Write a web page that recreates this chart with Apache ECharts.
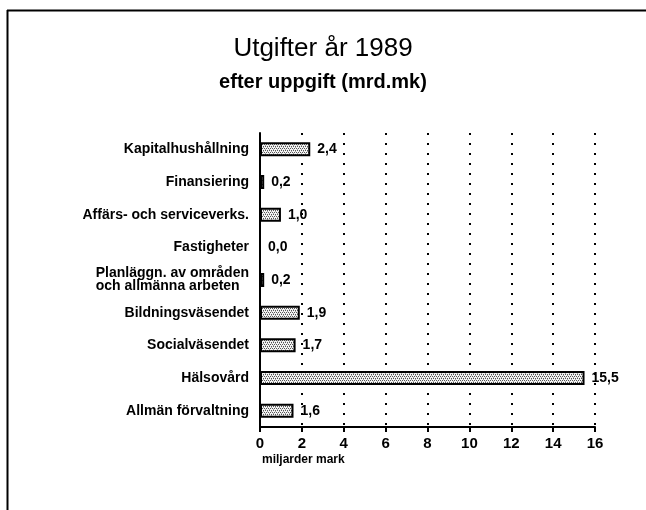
<!DOCTYPE html>
<html>
<head>
<meta charset="utf-8">
<script src="https://cdn.jsdelivr.net/npm/echarts@6/dist/echarts.min.js"></script>
<style>
html,body{margin:0;padding:0;background:#fff;}
#c{width:646px;height:510px;}
</style>
</head>
<body>
<div id="c"></div>
<script>
const categories = [
  'Kapitalhushållning',
  'Finansiering',
  'Affärs- och serviceverks.',
  'Fastigheter',
  'Planläggn. av områden\noch allmänna arbeten',
  'Bildningsväsendet',
  'Socialväsendet',
  'Hälsovård',
  'Allmän förvaltning'
];
const values = [2.4, 0.2, 1.0, 0.0, 0.2, 1.9, 1.7, 15.5, 1.6];
const xTicks = [0, 2, 4, 6, 8, 10, 12, 14, 16];
const titleText = 'Utgifter år 1989';
const subtitleText = 'efter uppgift (mrd.mk)';
const axisLabel = 'miljarder mark';

// stipple pattern
const pc = document.createElement('canvas');
pc.width = 4; pc.height = 4;
const pctx = pc.getContext('2d');
pctx.fillStyle = '#f4f4f4';
pctx.fillRect(0, 0, 4, 4);
pctx.fillStyle = '#555555';
pctx.fillRect(0, 0, 1, 1);
pctx.fillRect(2, 0, 1, 1);
pctx.fillRect(1, 2, 1, 1);
pctx.fillRect(3, 2, 1, 1);
pctx.fillStyle = '#a8a8a8';
pctx.fillRect(1, 1, 1, 1);
pctx.fillRect(3, 3, 1, 1);

const font = 'Liberation Sans, Arial, sans-serif';
const chart = echarts.init(document.getElementById('c'), null, {renderer: 'canvas'});
chart.setOption({
  animation: false,
  backgroundColor: '#fff',
  title: [
    {text: titleText, left: 'center', top: 31, textStyle: {fontFamily: font, fontSize: 26, fontWeight: 'normal', color: '#000'}},
    {text: subtitleText, left: 'center', top: 67, textStyle: {fontFamily: font, fontSize: 20, fontWeight: 'bold', color: '#000'}}
  ],
  graphic: [
    {type: 'line', shape: {x1: 7, y1: 10.5, x2: 660, y2: 10.5}, style: {stroke: '#000', lineWidth: 2}},
    {type: 'line', shape: {x1: 7.5, y1: 10, x2: 7.5, y2: 520}, style: {stroke: '#000', lineWidth: 2}},
    {type: 'text', left: 262, top: 454, style: {text: axisLabel, fontFamily: font, fontSize: 12, fontWeight: 'bold', fill: '#000'}}
  ],
  grid: {left: 260, right: 51, top: 133, bottom: 83, containLabel: false},
  xAxis: {
    type: 'value', min: 0, max: 16, interval: 2,
    axisLine: {show: true, lineStyle: {color: '#000', width: 2}},
    axisTick: {show: true, length: 5, inside: false, lineStyle: {color: '#000', width: 2}},
    axisLabel: {
      color: '#000', fontFamily: font, fontSize: 15, fontWeight: 'bold', margin: 9,
      formatter: v => xTicks.includes(v) ? String(v) : ''
    },
    splitLine: {show: true, lineStyle: {color: '#000', width: 2, type: [2, 8]}}
  },
  yAxis: {
    type: 'category', data: categories, inverse: true,
    axisLine: {show: true, lineStyle: {color: '#000', width: 2}},
    axisTick: {show: false},
    axisLabel: {
      color: '#000', fontFamily: font, fontSize: 14, fontWeight: 'bold', margin: 11, lineHeight: 13, align: 'right',
      formatter: v => v.indexOf('\n') >= 0 ? v.split('\n').map(s => '{l|' + s + '}').join('\n') : v,
      rich: {l: {align: 'left', fontFamily: font, fontSize: 14, fontWeight: 'bold', lineHeight: 13, color: '#000'}}
    },
    splitLine: {show: false}
  },
  series: [{
    type: 'bar',
    data: values,
    barWidth: 14,
    itemStyle: {color: {image: pc, repeat: 'repeat'}, borderColor: '#000', borderWidth: 2},
    label: {
      show: true, position: 'right', distance: 7, color: '#000',
      fontFamily: font, fontSize: 14, fontWeight: 'bold',
      formatter: p => p.value.toFixed(1).replace('.', ',')
    }
  }]
});
</script>
</body>
</html>
